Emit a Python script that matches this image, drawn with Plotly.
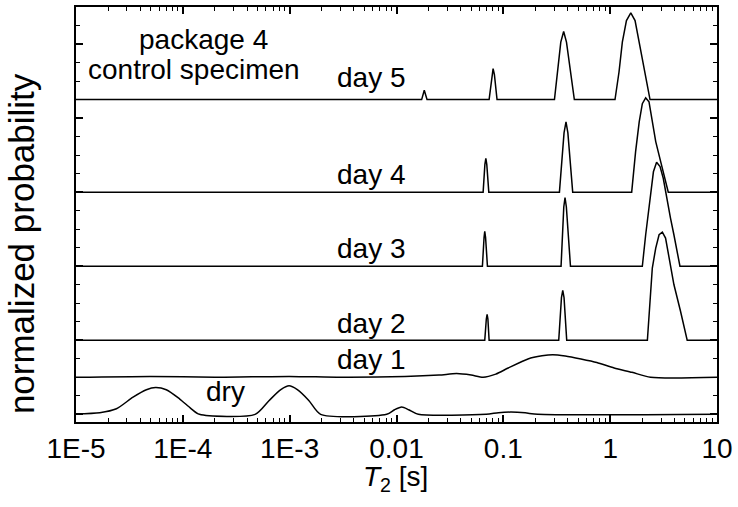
import plotly.graph_objects as go

# T2 relaxation-time distributions (seconds) and normalized probability profiles
dry_t = [1e-5, 1.67e-5, 2.39e-5, 3.42e-5, 4.56e-5, 5.56e-5, 7.0e-5, 9.3e-5, 1.2e-4, 1.43e-4,
         4.75e-4, 6.43e-4, 8.26e-4, 9.87e-4, 1.18e-3, 1.51e-3, 1.95e-3,
         8.1e-3, 9.6e-3, 1.12e-2, 1.3e-2, 1.6e-2,
         6.9e-2, 9.0e-2, 1.18e-1, 1.6e-1, 2.1e-1, 10]
dry_p = [0.03, 0.09, 0.3, 0.93, 1.33, 1.45, 1.33, 0.84, 0.3, 0,
         0, 0.75, 1.33, 1.54, 1.33, 0.75, 0,
         0, 0.25, 0.39, 0.25, 0,
         0, 0.09, 0.12, 0.08, 0, 0]

day1_t = [1e-5, 5e-5, 2e-4, 1e-3, 3e-3, 0.012, 0.025, 0.0365, 0.05, 0.0647, 0.085,
          0.111, 0.17, 0.23, 0.29, 0.38, 0.533, 0.75, 1.09, 1.6, 2.39, 10]
day1_p = [0, 0.05, 0, 0.05, 0, 0.04, 0.12, 0.2, 0.12, 0, 0.17,
          0.5, 0.99, 1.16, 1.22, 1.15, 0.99, 0.8, 0.5, 0.27, 0, 0]

day2_t = [1e-5, 0.0670, 0.0693, 0.0705, 0.0717, 0.0736,
          0.330, 0.350, 0.360, 0.370, 0.392,
          2.23, 2.48, 2.67, 2.87, 3.08, 3.30, 3.55, 3.95, 4.55, 5.26, 10]
day2_p = [0, 0, 1.15, 1.40, 1.15, 0,
          0, 2.3, 2.70, 2.3, 0,
          0, 3.9, 4.98, 5.7, 5.84, 5.52, 4.44, 3.01, 1.58, 0, 0]

day3_t = [1e-5, 0.0637, 0.0660, 0.0670, 0.0682, 0.0710,
          0.347, 0.368, 0.378, 0.389, 0.425,
          2.0, 2.15, 2.39, 2.54, 2.72, 2.93, 3.14, 3.42, 3.67, 3.95, 4.50, 10]
day3_p = [0, 0, 1.55, 1.88, 1.55, 0,
          0, 3.2, 3.71, 3.2, 0,
          0, 1.70, 4.03, 5.1, 5.61, 5.38, 4.75, 3.49, 2.6, 1.70, 0, 0]

day4_t = [1e-5, 0.0647, 0.0672, 0.0686, 0.0700, 0.0731,
          0.335, 0.370, 0.386, 0.402, 0.446,
          1.59, 1.73, 1.87, 2.0, 2.15, 2.31, 2.48, 2.67, 2.97, 3.50, 10]
day4_p = [0, 0, 1.5, 1.83, 1.5, 0,
          0, 3.2, 3.8, 3.2, 0,
          0, 2.19, 3.8, 4.78, 5.09, 4.88, 3.80, 2.73, 1.65, 0, 0]

day5_t = [1e-5, 0.0172, 0.0182, 0.0193,
          0.0736, 0.0780, 0.0802, 0.0825, 0.0873,
          0.301, 0.345, 0.367, 0.390, 0.462,
          1.11, 1.21, 1.30, 1.42, 1.56, 1.71, 1.84, 1.97, 2.15, 2.36, 10]
day5_p = [0, 0, 0.5, 0,
          0, 1.35, 1.67, 1.35, 0,
          0, 3.1, 3.68, 3.1, 0,
          0, 1.49, 3.10, 4.27, 4.68, 4.27, 3.28, 2.47, 1.31, 0, 0]

series_names = ["dry", "day 1", "day 2", "day 3", "day 4", "day 5"]
series_t = [dry_t, day1_t, day2_t, day3_t, day4_t, day5_t]
series_p = [dry_p, day1_p, day2_p, day3_p, day4_p, day5_p]
# vertical stacking offset of each curve
offsets = [0, 2, 4, 8, 12, 17]
# broad distributions are smoothed, narrow ones drawn straight
shapes = ["spline", "spline", "linear", "linear", "linear", "linear"]

x_tickvals = [1e-5, 1e-4, 1e-3, 1e-2, 1e-1, 1, 10]
x_ticktext = ["1E-5", "1E-4", "1E-3", "0.01", "0.1", "1", "10"]
x_minor = [m * 10.0 ** e for e in range(-5, 1) for m in range(2, 10)]
y_major = [0, 4, 8, 12, 16, 20]
y_minor = [v for v in range(0, 22) if v % 4 != 0]

FONT = "Arial, Liberation Sans, sans-serif"

fig = go.Figure()
for name, t, p, off, shp in zip(series_names, series_t, series_p, offsets, shapes):
    fig.add_trace(go.Scatter(
        x=t, y=[v + off for v in p], mode="lines", name=name,
        line=dict(color="black", width=1.5, shape=shp, smoothing=0.7),
        showlegend=False,
    ))

# curve labels: (text, log10 x, y, xanchor)
labels = [
    ("day 5", -1.888, offsets[5] + 1.2, "right"),
    ("day 4", -1.888, offsets[4] + 0.93, "right"),
    ("day 3", -1.888, offsets[3] + 0.95, "right"),
    ("day 2", -1.888, offsets[2] + 0.92, "right"),
    ("day 1", -1.888, offsets[1] + 0.98, "right"),
    ("dry", -3.602, offsets[0] + 1.26, "center"),
    ("package 4", -3.807, 20.25, "center"),
    ("control specimen", -3.891, 18.65, "center"),
]
for text, lx, ly, xa in labels:
    fig.add_annotation(x=lx, y=ly, xref="x", yref="y", text=text, showarrow=False,
                       xanchor=xa, yanchor="middle",
                       font=dict(family=FONT, size=28, color="black"))

fig.add_annotation(x=-0.084, y=0.429, xref="paper", yref="paper",
                   text="normalized probability", textangle=-90, showarrow=False,
                   xanchor="center", yanchor="middle",
                   font=dict(family=FONT, size=35, color="black"))
fig.add_annotation(x=0.498, y=-0.137, xref="paper", yref="paper",
                   text="<i>T</i><sub>2</sub> [s]", showarrow=False,
                   xanchor="center", yanchor="middle",
                   font=dict(family=FONT, size=28, color="black"))

fig.update_xaxes(
    type="log", range=[-5, 1], tickmode="array", tickvals=x_tickvals, ticktext=x_ticktext,
    ticks="inside", ticklen=7, tickwidth=1.5, tickcolor="black",
    showline=True, linewidth=1.8, linecolor="black", mirror="allticks",
    showgrid=False, zeroline=False,
    tickfont=dict(family=FONT, size=28, color="black"),
    minor=dict(tickmode="array", tickvals=x_minor, ticks="inside", ticklen=4,
               tickwidth=1.2, tickcolor="black", showgrid=False),
)
fig.update_yaxes(
    range=[-0.414, 22], tickmode="array", tickvals=y_major, showticklabels=False,
    ticks="inside", ticklen=7, tickwidth=1.5, tickcolor="black",
    showline=True, linewidth=1.8, linecolor="black", mirror="allticks",
    showgrid=False, zeroline=False,
    minor=dict(tickmode="array", tickvals=y_minor, ticks="inside", ticklen=4,
               tickwidth=1.2, tickcolor="black", showgrid=False),
)
fig.update_layout(
    width=738, height=507,
    margin=dict(l=76, r=18, t=5, b=85),
    plot_bgcolor="white", paper_bgcolor="white",
    font=dict(family=FONT, color="black"),
)
fig.write_html("out.html")
